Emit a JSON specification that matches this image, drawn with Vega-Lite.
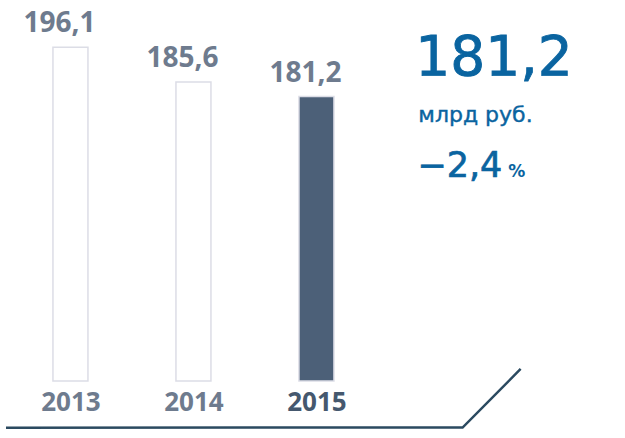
{
  "$schema": "https://vega.github.io/schema/vega-lite/v6.json",
  "width": 625,
  "height": 381,
  "padding": 0,
  "background": "white",
  "config": {
    "view": {"stroke": null},
    "locale": {"number": {"decimal": ",", "thousands": " ", "grouping": [3], "currency": ["", ""]}}
  },
  "datasets": {
    "bars": [
      {"year": 2013, "value": 196.1},
      {"year": 2014, "value": 185.6},
      {"year": 2015, "value": 181.2}
    ],
    "frame": [
      {"order": 1, "px": 2012.476, "py": 80.85},
      {"order": 2, "px": 2016.188, "py": 80.9},
      {"order": 3, "px": 2016.66, "py": 98.64}
    ]
  },
  "data": {"name": "bars"},
  "layer": [
    {
      "mark": {"type": "bar", "size": 35, "stroke": "#dcdde6", "strokeWidth": 1.5},
      "encoding": {
        "x": {
          "field": "year",
          "type": "quantitative",
          "scale": {"domain": [2012.476, 2017.476], "nice": false, "zero": false},
          "axis": {
            "values": [2013, 2014, 2015],
            "format": "d",
            "title": null,
            "domain": false,
            "ticks": false,
            "tickSize": 0,
            "grid": false,
            "labelFont": "Open Sans",
            "labelFontWeight": "bold",
            "labelFontSize": 26,
            "labelBaseline": "alphabetic",
            "labelPadding": 29,
            "labelFlush": false,
            "labelOverlap": false,
            "labelColor": {"condition": {"test": "datum.value == 2015", "value": "#45586e"}, "value": "#6e7b8e"}
          }
        },
        "y": {
          "field": "value",
          "type": "quantitative",
          "scale": {"domain": [95, 210.45], "nice": false, "zero": false},
          "axis": null
        },
        "y2": {"datum": 95},
        "fill": {"condition": {"test": "datum.year == 2015", "value": "#4c6078"}, "value": "#ffffff"}
      }
    },
    {
      "mark": {"type": "text", "font": "Open Sans", "fontWeight": "bold", "fontSize": 28, "color": "#6e7b8e", "baseline": "alphabetic", "align": "center", "dy": -15, "dx": -11},
      "encoding": {
        "x": {"field": "year", "type": "quantitative"},
        "y": {"field": "value", "type": "quantitative"},
        "text": {"field": "value", "type": "quantitative", "format": ".1f"}
      }
    },
    {
      "transform": [{"filter": "datum.year == 2015"}],
      "mark": {"type": "text", "font": "DejaVu Sans", "fontSize": 55, "color": "#0a64a0", "stroke": "#0a64a0", "strokeWidth": 0.9, "baseline": "alphabetic", "align": "left"},
      "encoding": {
        "x": {"datum": 2015.804, "type": "quantitative"},
        "y": {"datum": 187.73, "type": "quantitative"},
        "text": {"field": "value", "type": "quantitative", "format": ".1f"}
      }
    },
    {
      "transform": [{"filter": "datum.year == 2015"}],
      "mark": {"type": "text", "font": "DejaVu Sans", "fontSize": 22, "color": "#0a64a0", "stroke": "#0a64a0", "strokeWidth": 0.4, "baseline": "alphabetic", "align": "left"},
      "encoding": {
        "x": {"datum": 2015.828, "type": "quantitative"},
        "y": {"datum": 173.6, "type": "quantitative"},
        "text": {"value": "млрд руб."}
      }
    },
    {
      "transform": [{"filter": "datum.year == 2015"}],
      "mark": {"type": "text", "font": "DejaVu Sans", "fontSize": 35, "color": "#0a64a0", "stroke": "#0a64a0", "strokeWidth": 0.7, "baseline": "alphabetic", "align": "left"},
      "encoding": {
        "x": {"datum": 2015.82, "type": "quantitative"},
        "y": {"datum": 156.9, "type": "quantitative"},
        "text": {"value": "−2,4"}
      }
    },
    {
      "transform": [{"filter": "datum.year == 2015"}],
      "mark": {"type": "text", "font": "DejaVu Sans", "fontWeight": "bold", "fontSize": 17, "color": "#0a64a0", "baseline": "alphabetic", "align": "left"},
      "encoding": {
        "x": {"datum": 2016.56, "type": "quantitative"},
        "y": {"datum": 156.9, "type": "quantitative"},
        "text": {"value": "%"}
      }
    },
    {
      "data": {"name": "frame"},
      "mark": {"type": "line", "color": "#2b4a60", "strokeWidth": 2.5, "strokeCap": "butt"},
      "encoding": {
        "x": {"field": "px", "type": "quantitative"},
        "y": {"field": "py", "type": "quantitative"},
        "order": {"field": "order", "type": "quantitative"}
      }
    }
  ]
}
